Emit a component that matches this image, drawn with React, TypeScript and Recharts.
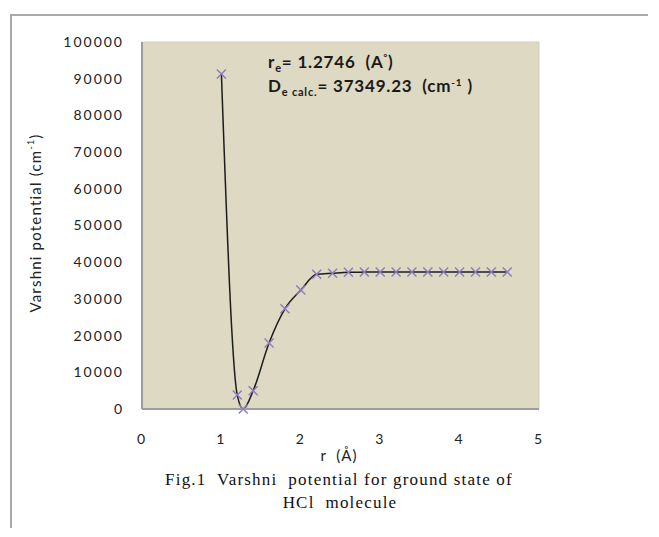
import React from 'react';
import { LineChart, Line, XAxis, YAxis, ReferenceArea, Label } from 'recharts';

// internuclear distance r (Å)
const rValues: number[] = [
  1.0, 1.2, 1.2746, 1.4, 1.6, 1.8, 2.0, 2.2, 2.4, 2.6, 2.8, 3.0, 3.2, 3.4, 3.6, 3.8, 4.0, 4.2, 4.4, 4.6,
];

// Varshni potential (cm-1)
const potentialValues: number[] = [
  91300, 3800, 0, 5000, 18000, 27300, 32400, 36700, 37000, 37250, 37300, 37330, 37340, 37345, 37347,
  37348, 37349, 37349, 37349, 37349,
];

const xTicks: number[] = [0, 1, 2, 3, 4, 5];
const yTicks: number[] = [0, 10000, 20000, 30000, 40000, 50000, 60000, 70000, 80000, 90000, 100000];

const data = rValues.map((r, i) => ({ r, v: potentialValues[i] }));

const TICK_FONT = 'Lato, "Open Sans", sans-serif';
const SERIF = '"Liberation Serif", "Times New Roman", serif';

// purple "x" marker like the Excel series
const CrossDot = (props: any) => {
  const { cx, cy } = props;
  if (cx == null || cy == null) return null;
  const s = 4.5;
  return (
    <g>
      <line x1={cx - s} y1={cy - s} x2={cx + s} y2={cy + s} stroke="#8b7bbd" strokeWidth={1.4} />
      <line x1={cx - s} y1={cy + s} x2={cx + s} y2={cy - s} stroke="#8b7bbd" strokeWidth={1.4} />
    </g>
  );
};

const YTitle = () => (
  <text
    x={27}
    y={215}
    transform="rotate(-90 27 215)"
    textAnchor="middle"
    dominantBaseline="central"
    fontFamily={TICK_FONT}
    fontSize={15}
    letterSpacing={1.2}
    fill="#222"
  >
    Varshni potential (cm<tspan dy={-5} fontSize={9}>-1</tspan>
    <tspan dy={5}>)</tspan>
  </text>
);

const XTitleAndCaption = () => (
  <g>
    <text
      x={331}
      y={453}
      textAnchor="middle"
      fontFamily={TICK_FONT}
      fontSize={15}
      letterSpacing={1}
      fill="#222"
      style={{ whiteSpace: 'pre' }}
    >
      {'r  (Å)'}
    </text>
    <text
      x={331}
      y={477}
      textAnchor="middle"
      fontFamily={SERIF}
      fontSize={17}
      letterSpacing={1.2}
      fill="#111"
      style={{ whiteSpace: 'pre' }}
    >
      {'Fig.1  Varshni  potential for ground state of'}
    </text>
    <text
      x={332}
      y={500}
      textAnchor="middle"
      fontFamily={SERIF}
      fontSize={17}
      letterSpacing={1.2}
      fill="#111"
      style={{ whiteSpace: 'pre' }}
    >
      {'HCl  molecule'}
    </text>
  </g>
);

const Annotation = () => (
  <g fontFamily={TICK_FONT} fontWeight="bold" fill="#1a1a1a" letterSpacing={0.8}>
    <text x={260} y={60} fontSize={17} style={{ whiteSpace: 'pre' }}>
      r<tspan fontSize={11} dy={4}>e</tspan>
      <tspan dy={-4}>{'= 1.2746  (A'}</tspan>
      <tspan fontSize={9} dy={-7}>°</tspan>
      <tspan dy={7}>)</tspan>
    </text>
    <text x={260} y={84} fontSize={17} style={{ whiteSpace: 'pre' }}>
      D<tspan fontSize={11} dy={4}>e calc.</tspan>
      <tspan dy={-4}>{'= 37349.23  (cm'}</tspan>
      <tspan fontSize={10} dy={-6}>-1</tspan>
      <tspan dy={6}>{' )'}</tspan>
    </text>
  </g>
);

const App: React.FC = () => {
  return (
    <div style={{ position: 'relative', width: 640, height: 520 }}>
      <div style={{ position: 'absolute', left: 2, top: 6, width: 638, height: 2, background: '#a9a9a9' }} />
      <div style={{ position: 'absolute', left: 2, top: 6, width: 2, height: 514, background: '#a9a9a9' }} />
      <div style={{ position: 'absolute', left: 0, top: 0 }}>
        <LineChart
          width={640}
          height={520}
          data={data}
          margin={{ top: 34, right: 109, bottom: 89, left: 0 }}
        >
          <ReferenceArea
            x1={0}
            x2={5}
            y1={0}
            y2={100000}
            fill="#ddd9c3"
            fillOpacity={1}
            stroke="#d2cfbf"
            ifOverflow="extendDomain"
          >
            <Label content={<Annotation />} />
          </ReferenceArea>
          <XAxis
            dataKey="r"
            type="number"
            domain={[0, 5]}
            ticks={xTicks}
            interval={0}
            height={30}
            tickLine={false}
            tickMargin={19}
            axisLine={{ stroke: '#9d9d9d', strokeWidth: 2 }}
            tick={{ fill: '#222', fontSize: 14, fontFamily: TICK_FONT, letterSpacing: 2 }}
          >
            <Label content={<XTitleAndCaption />} />
          </XAxis>
          <YAxis
            type="number"
            domain={[0, 100000]}
            ticks={yTicks}
            interval={0}
            width={134}
            tickLine={false}
            tickMargin={12}
            axisLine={{ stroke: '#9d9d9d', strokeWidth: 2 }}
            tick={{ fill: '#222', fontSize: 14, fontFamily: TICK_FONT, letterSpacing: 2 }}
          >
            <Label content={<YTitle />} />
          </YAxis>
          <Line
            type="monotone"
            dataKey="v"
            stroke="#1c1c1c"
            strokeWidth={1.5}
            dot={<CrossDot />}
            activeDot={false}
            isAnimationActive={false}
          />
        </LineChart>
      </div>
    </div>
  );
};

export default App;
